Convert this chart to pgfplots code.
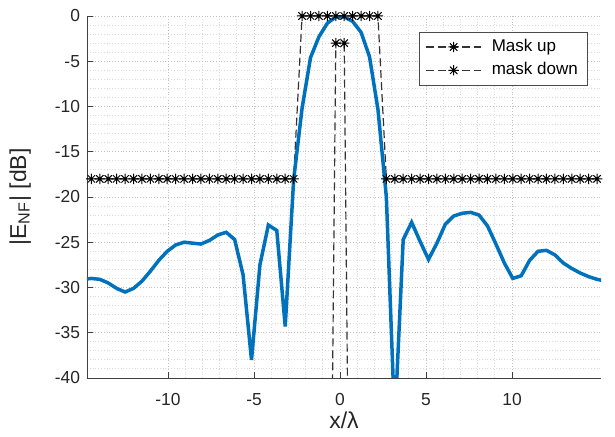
\documentclass[border=0pt]{standalone}
\usepackage{fontspec}
\setmainfont{Liberation Sans}
\usepackage{pgfplots}
\pgfplotsset{compat=1.18}
\definecolor{mblue}{rgb}{0,0.447,0.741}
\pgfdeclareplotmark{mstar}{%
  \pgfpathmoveto{\pgfqpoint{0pt}{\pgfplotmarksize}}\pgfpathlineto{\pgfqpoint{0pt}{-\pgfplotmarksize}}%
  \pgfpathmoveto{\pgfqpoint{\pgfplotmarksize}{0pt}}\pgfpathlineto{\pgfqpoint{-\pgfplotmarksize}{0pt}}%
  \pgfpathmoveto{\pgfqpoint{.707\pgfplotmarksize}{.707\pgfplotmarksize}}\pgfpathlineto{\pgfqpoint{-.707\pgfplotmarksize}{-.707\pgfplotmarksize}}%
  \pgfpathmoveto{\pgfqpoint{-.707\pgfplotmarksize}{.707\pgfplotmarksize}}\pgfpathlineto{\pgfqpoint{.707\pgfplotmarksize}{-.707\pgfplotmarksize}}%
  \pgfusepathqstroke}
\begin{document}
\begin{tikzpicture}
\begin{axis}[name=ax, scale only axis, width=257pt, height=181pt,
  xmin=-14.709, xmax=15.174, ymin=-40, ymax=0,
  xtick={-10,-5,0,5,10}, ytick={-40,-35,...,0},
  minor x tick num=4, minor y tick num=4,
  grid=both,
  major grid style={densely dotted, black!24, line width=0.45pt},
  minor grid style={densely dotted, black!14, line width=0.45pt},
  axis x line*=bottom, axis y line*=left,
  axis line style={black!75, line width=0.4pt},
  tick style={black!75, line width=0.4pt}, major tick length=3pt, minor tick length=0pt, tick align=inside,
  /pgf/number format/assume math mode=true,
  ticklabel style={font=\fontsize{8.7}{10}\selectfont, text=black!85},
  xticklabel style={yshift=-4pt},
  xlabel={x/λ}, ylabel={|E\textsubscript{NF}| [dB]},
  label style={font=\fontsize{11.5}{13}\selectfont, text=black!85},
  xlabel style={at={(axis description cs:0.5,0)}, anchor=center, yshift=-21pt},
  ylabel style={at={(axis description cs:-0.13,0.5)}, anchor=center},
  legend style={at={(0.975,0.956)}, anchor=north east, draw=black!70, line width=0.4pt,
    font=\fontsize{8.5}{10}\selectfont, fill=white, inner xsep=3pt, inner ysep=1.5pt, row sep=0pt, cells={anchor=west}},
  legend image code/.code={\draw[mark repeat=2,mark phase=2,#1] plot coordinates {(1.5pt,0pt) (15.25pt,0pt) (29pt,0pt)};\path (32pt,0pt);},
]
\addplot[black!80, line width=0.6pt, dash pattern=on 4pt off 2pt, mark=mstar, mark size=2.6pt, mark options={solid, black, line width=0.5pt}] coordinates {
(-14.945,-18) (-14.455,-18) (-13.965,-18) (-13.475,-18) (-12.985,-18) (-12.495,-18) (-12.005,-18) (-11.515,-18)
(-11.025,-18) (-10.535,-18) (-10.045,-18) (-9.555,-18) (-9.065,-18) (-8.575,-18) (-8.085,-18) (-7.595,-18)
(-7.105,-18) (-6.615,-18) (-6.125,-18) (-5.635,-18) (-5.145,-18) (-4.655,-18) (-4.165,-18) (-3.675,-18)
(-3.185,-18) (-2.695,-18) (-2.205,0) (-1.715,0) (-1.225,0) (-0.735,0) (-0.245,0) (0.245,0) (0.735,0)
(1.225,0) (1.715,0) (2.205,0) (2.695,-18) (3.185,-18) (3.675,-18) (4.165,-18) (4.655,-18) (5.145,-18)
(5.635,-18) (6.125,-18) (6.615,-18) (7.105,-18) (7.595,-18) (8.085,-18) (8.575,-18) (9.065,-18) (9.555,-18)
(10.045,-18) (10.535,-18) (11.025,-18) (11.515,-18) (12.005,-18) (12.495,-18) (12.985,-18) (13.475,-18)
(13.965,-18) (14.455,-18) (14.945,-18) (15.435,-18)
};
\addlegendentry{Mask up}
\addplot[black!80, line width=0.6pt, dash pattern=on 4pt off 2pt, mark=mstar, mark size=2.6pt, mark options={solid, black, line width=0.5pt}] coordinates {
(-2.205,-100) (-1.715,-100) (-1.225,-100) (-0.735,-100) (-0.245,-3) (0.245,-3) (0.735,-100) (1.225,-100) (1.715,-100) (2.205,-100)
};
\addlegendentry{mask down}
\addplot[mblue, line width=1.75pt, forget plot] coordinates {
(-14.945,-29.1) (-14.455,-29.0) (-13.965,-29.1) (-13.475,-29.5) (-12.985,-30.1) (-12.495,-30.5)
(-12.005,-30.1) (-11.515,-29.3) (-11.025,-28.2) (-10.535,-27.0) (-10.045,-26.0) (-9.555,-25.3)
(-9.065,-25.0) (-8.575,-25.1) (-8.085,-25.2) (-7.595,-24.8) (-7.105,-24.2) (-6.615,-23.9)
(-6.125,-24.7) (-5.635,-28.6) (-5.145,-38.0) (-4.655,-27.5) (-4.165,-23.1) (-3.675,-23.7)
(-3.185,-34.3) (-2.695,-18.1) (-2.205,-10.2) (-1.715,-4.6) (-1.225,-2.3) (-0.735,-0.8)
(-0.245,-0.1) (0.245,-0.1) (0.735,-0.6) (1.225,-1.8) (1.715,-4.5) (2.205,-10.3) (2.695,-20.0)
(3.185,-45) (3.675,-24.7) (4.165,-22.8) (4.655,-24.9) (5.145,-26.9) (5.635,-25.1) (6.125,-23.0)
(6.615,-22.1) (7.105,-21.8) (7.595,-21.7) (8.085,-22.0) (8.575,-23.2) (9.065,-25.2) (9.555,-27.3)
(10.045,-29.0) (10.535,-28.7) (11.025,-27.0) (11.515,-26.0) (12.005,-25.9) (12.495,-26.4)
(12.985,-27.3) (13.475,-27.9) (13.965,-28.4) (14.455,-28.8) (14.945,-29.1) (15.435,-29.3)
};
\end{axis}
\pgfresetboundingbox
\path ([shift={(-43.5pt,-29.5pt)}]ax.south west) rectangle ([shift={(7pt,8pt)}]ax.north east);
\end{tikzpicture}
\end{document}
